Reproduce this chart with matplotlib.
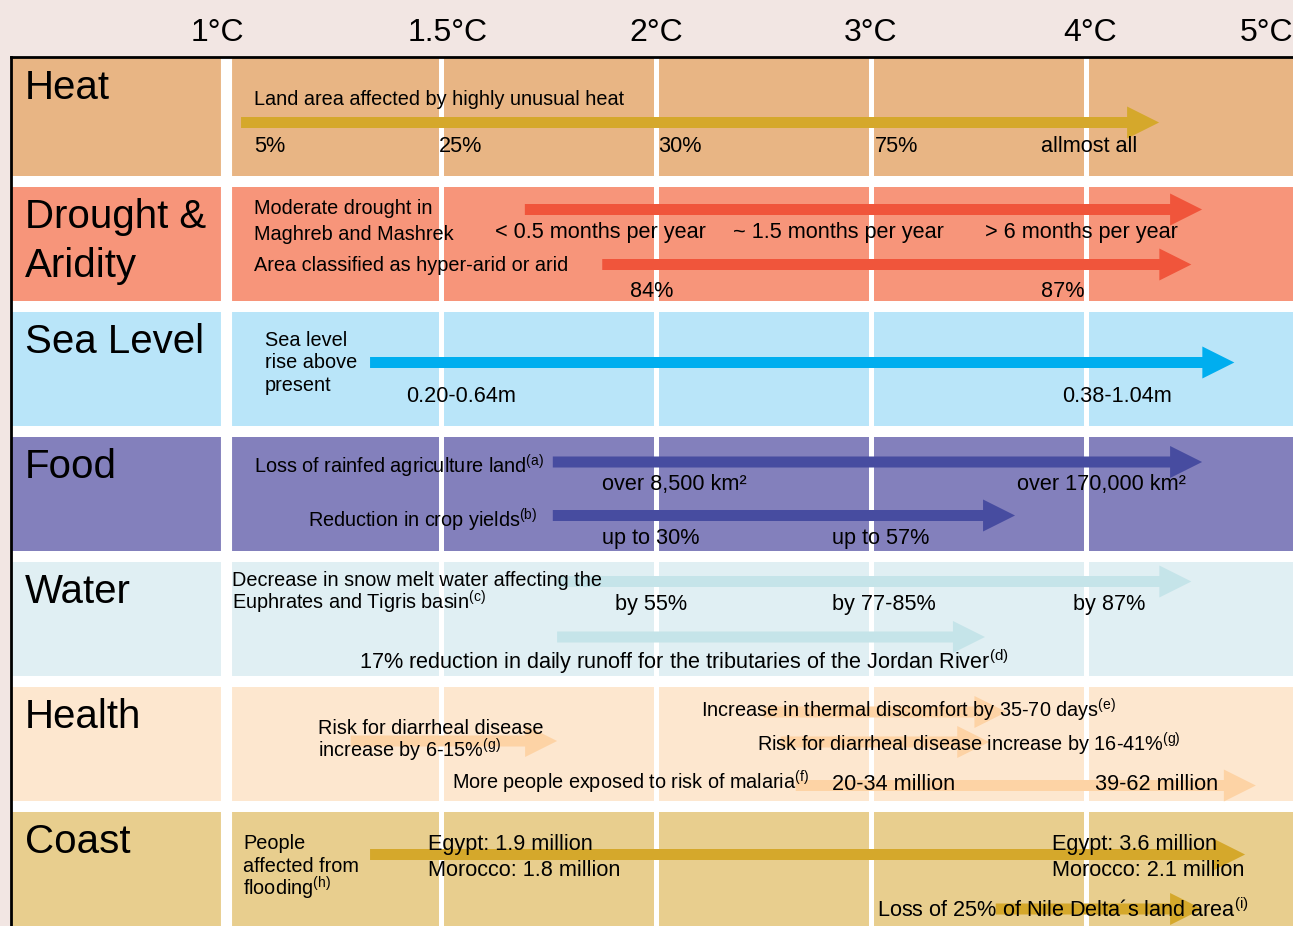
import numpy as np
import matplotlib.pyplot as plt

plt.rcParams['font.family'] = ['Liberation Sans', 'DejaVu Sans']
plt.rcParams['mathtext.fontset'] = 'custom'
plt.rcParams['mathtext.rm'] = 'Liberation Sans'
plt.rcParams['mathtext.it'] = 'Liberation Sans:italic'

# temperature scale: position 0 = 1°C, 1 = 1.5°C, 2 = 2°C, 3 = 3°C, 4 = 4°C, 5 = 5°C
temps = ['1°C', '1.5°C', '2°C', '3°C', '4°C', '5°C']
temp_label_pos = [-0.04, 1.03, 2.0, 3.0, 4.02, 4.84]

sectors = ['Heat', 'Drought &\nAridity', 'Sea Level', 'Food', 'Water', 'Health', 'Coast']
sector_colors = ['#E8B584', '#F7957A', '#B9E5F9', '#8380BC', '#E0EFF3', '#FDE7CF', '#E8CE8E']

# arrows: row, start and end on the temperature scale
arrow_row = [0, 1, 1, 2, 3, 3, 4, 4, 5, 5, 5, 5, 6, 6]
arrow_start = [0.07, 1.39, 1.75, 0.67, 1.52, 1.52, 1.54, 1.54, 0.58, 2.50, 2.58, 2.65, 0.67, 3.58]
arrow_end = [4.34, 4.54, 4.49, 4.69, 4.54, 3.67, 4.49, 3.53, 1.54, 3.63, 3.55, 4.79, 4.74, 4.54]

# values along the arrows
heat_values = ['5%', '25%', '30%', '75%', 'allmost all']
heat_pos = [0.13, 0.99, 2.01, 3.02, 3.79]
drought_months = ['< 0.5 months per year', '~ 1.5 months per year', '> 6 months per year']
drought_months_pos = [1.25, 2.36, 3.53]
arid_values = ['84%', '87%']
arid_pos = [1.88, 3.79]
sea_values = ['0.20-0.64m', '0.38-1.04m']
sea_pos = [0.84, 3.89]
land_values = ['over 8,500 km²', 'over 170,000 km²']
land_pos = [1.75, 3.68]
yield_values = ['up to 30%', 'up to 57%']
yield_pos = [1.75, 2.82]
snow_values = ['by 55%', 'by 77-85%', 'by 87%']
snow_pos = [1.81, 2.82, 3.94]
malaria_values = ['20-34 million', '39-62 million']
malaria_pos = [2.82, 4.04]
egypt_values = ['Egypt: 1.9 million', 'Egypt: 3.6 million']
morocco_values = ['Morocco: 1.8 million', 'Morocco: 2.1 million']
flood_pos = [0.94, 3.84]

# descriptions
descriptions = ['Land area affected by highly unusual heat',
                'Moderate drought in', 'Maghreb and Mashrek',
                'Area classified as hyper-arid or arid',
                'Sea level', 'rise above', 'present',
                r'Loss of rainfed agriculture land$^{\rm (a)}$',
                r'Reduction in crop yields$^{\rm (b)}$',
                'Decrease in snow melt water affecting the',
                r'Euphrates and Tigris basin$^{\rm (c)}$',
                r'17% reduction in daily runoff for the tributaries of the Jordan River$^{\rm (d)}$',
                'Risk for diarrheal disease', r'increase by 6-15%$^{\rm (g)}$',
                r'Increase in thermal discomfort by 35-70 days$^{\rm (e)}$',
                r'Risk for diarrheal disease increase by 16-41%$^{\rm (g)}$',
                r'More people exposed to risk of malaria$^{\rm (f)}$',
                'People', 'affected from', r'flooding$^{\rm (h)}$',
                r'Loss of 25% of Nile Delta´s land area$^{\rm (i)}$']
desc_pos = [0.13, 0.13, 0.13, 0.13, 0.18, 0.18, 0.18, 0.13, 0.38, 0.03, 0.03, 0.62,
            0.43, 0.43, 2.21, 2.47, 1.05, 0.08, 0.08, 0.08, 3.03]

# ---- layout (pixels vertically, 215 px per temperature step horizontally)
W, H = 1293, 926
step, origin = 215.0, 226.0
xl, xr = -origin / step, (W - origin) / step
row_top = [58] + [62 + 125 * i for i in range(1, 7)]
row_bot = [176 + 125 * i for i in range(7)]
arrow_y = [122.5, 209.5, 264.5, 362.5, 462, 515.5, 581.5, 637, 741, 712, 742, 785.5, 854.5, 909]
arrow_colors = ['#D5A82B', '#F0553B', '#F0553B', '#00AEEF', '#474CA0', '#474CA0',
                '#C5E4E9', '#C5E4E9', '#FDD3A5', '#FDD3A5', '#FDD3A5', '#FDD3A5',
                '#D5A82B', '#D5A82B']
desc_y = [105, 214, 240, 271, 346, 368, 391, 473, 527, 586, 610, 669,
          734, 758, 717, 752, 789, 849, 872, 895, 917]
desc_size = [14.3] * len(descriptions)
desc_size[11] = 15.6   # Jordan River line
desc_size[20] = 15.6   # Nile Delta line

fig = plt.figure(figsize=(W / 100, H / 100), dpi=100)
fig.patch.set_facecolor('#F2E6E3')
ax = fig.add_axes([0, 0, 1, 1])
ax.set_xlim(xl, xr)
ax.set_ylim(H, 0)
ax.axis('off')

# white panel with black frame
ax.fill_between([-1.0, xr], 57, H, color='white', lw=0, zorder=0)
ax.plot([-1.0, -1.0], [H, 57], color='black', lw=2, zorder=5)
ax.plot([-1.0, xr], [57, 57], color='black', lw=2, zorder=5)

# sector bands
for i, name in enumerate(sectors):
    ax.barh((row_top[i] + row_bot[i]) / 2, xr + 1.0, left=-1.0,
            height=row_bot[i] - row_top[i], color=sector_colors[i], zorder=1)
    for k, line in enumerate(name.split('\n')):
        ax.text(-0.935, row_top[i] + 41 + 49 * k, line,
                fontsize=29, va='baseline', ha='left', zorder=4)

# column separators
ax.vlines(0, 57, H, color='white', lw=8, zorder=2)
ax.vlines([1, 2, 3, 4], 57, H, color='white', lw=3.6, zorder=2)

# temperature labels
for t, p in zip(temps, temp_label_pos):
    ax.text(p, 41, t, fontsize=23, ha='center', va='baseline')

# arrows
for r, s, e, y, c in zip(arrow_row, arrow_start, arrow_end, arrow_y, arrow_colors):
    ax.arrow(s, y, e - s, 0, width=11, head_width=32, head_length=32 / step,
             length_includes_head=True, fc=c, ec='none', zorder=3)

# descriptions
for t, x, y, fs in zip(descriptions, desc_pos, desc_y, desc_size):
    ax.text(x, y, t, fontsize=fs, va='baseline', ha='left', zorder=4)

# values
def put(labels, pos, y, size=15.6):
    for t, x in zip(labels, pos):
        ax.text(x, y, t, fontsize=size, va='baseline', ha='left', zorder=4)

put(heat_values, heat_pos, 152)
put(drought_months, drought_months_pos, 238)
put(arid_values, arid_pos, 297)
put(sea_values, sea_pos, 402)
put(land_values, land_pos, 490)
put(yield_values, yield_pos, 544)
put(snow_values, snow_pos, 610)
put(malaria_values, malaria_pos, 790)
put(egypt_values, flood_pos, 850)
put(morocco_values, flood_pos, 876)

fig.savefig('out.png', dpi=100, facecolor=fig.get_facecolor())
plt.close()
